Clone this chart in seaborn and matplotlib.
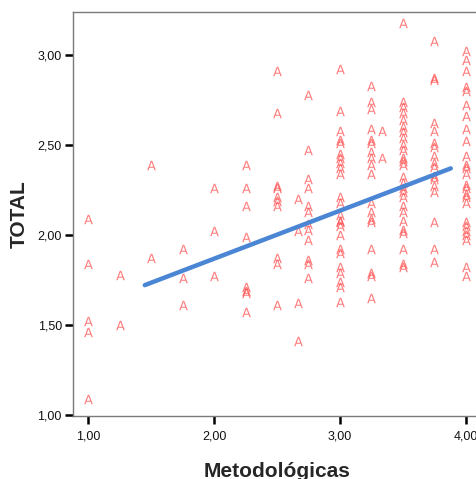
import numpy as np
import pandas as pd
import matplotlib
matplotlib.use("Agg")
import matplotlib.pyplot as plt
from matplotlib.ticker import FuncFormatter
import seaborn as sns

# Scores per Metodológicas level (TOTAL values observed at each level)
metodologicas_levels = [1.00, 1.25, 1.50, 1.75, 2.00, 2.25, 2.50, 2.67, 2.75,
                        3.00, 3.25, 3.33, 3.50, 3.75, 4.00]
total_at_100 = [2.09, 1.84, 1.52, 1.46, 1.09]
total_at_125 = [1.78, 1.50]
total_at_150 = [2.39, 1.87]
total_at_175 = [1.92, 1.76, 1.61]
total_at_200 = [2.26, 2.02, 1.77]
total_at_225 = [2.39, 2.26, 2.16, 1.99, 1.71, 1.69, 1.68, 1.57]
total_at_250 = [2.91, 2.68, 2.27, 2.26, 2.21, 2.19, 2.16, 1.87, 1.84, 1.61]
total_at_267 = [2.20, 2.02, 1.62, 1.41]
total_at_275 = [2.78, 2.47, 2.31, 2.26, 2.16, 2.13, 2.06, 2.03, 1.97, 1.86,
                1.84, 1.76]
total_at_300 = [2.92, 2.69, 2.58, 2.53, 2.51, 2.45, 2.43, 2.40, 2.37, 2.34,
                2.21, 2.18, 2.11, 2.08, 2.07, 2.05, 2.00, 1.92, 1.90, 1.82,
                1.79, 1.74, 1.71, 1.63]
total_at_325 = [2.83, 2.74, 2.70, 2.59, 2.53, 2.51, 2.46, 2.43, 2.39, 2.34,
                2.18, 2.13, 2.09, 2.07, 1.92, 1.79, 1.77, 1.65]
total_at_333 = [2.58, 2.43]
total_at_350 = [3.18, 2.74, 2.71, 2.68, 2.64, 2.60, 2.57, 2.54, 2.50, 2.47,
                2.43, 2.41, 2.39, 2.32, 2.29, 2.26, 2.24, 2.21, 2.16, 2.13,
                2.08, 2.03, 2.01, 1.92, 1.84, 1.82]
total_at_375 = [3.08, 2.87, 2.86, 2.62, 2.58, 2.51, 2.49, 2.44, 2.40, 2.38,
                2.33, 2.31, 2.27, 2.24, 2.07, 1.92, 1.85]
total_at_400 = [3.02, 2.97, 2.91, 2.82, 2.80, 2.72, 2.66, 2.59, 2.52, 2.44,
                2.39, 2.37, 2.34, 2.28, 2.26, 2.23, 2.21, 2.18, 2.07, 2.05,
                2.02, 2.00, 1.97, 1.82, 1.77]

totals_by_level = [total_at_100, total_at_125, total_at_150, total_at_175,
                   total_at_200, total_at_225, total_at_250, total_at_267,
                   total_at_275, total_at_300, total_at_325, total_at_333,
                   total_at_350, total_at_375, total_at_400]

# Linear fit line: TOTAL = intercept + slope * Metodológicas, over fit_span
fit_intercept = 1.334
fit_slope = 0.267
fit_span = [1.45, 3.88]

x_ticks = [1.0, 2.0, 3.0, 4.0]
y_ticks = [1.0, 1.5, 2.0, 2.5, 3.0]

df = pd.DataFrame({
    "Metodológicas": np.concatenate([[lvl] * len(v) for lvl, v in
                                     zip(metodologicas_levels, totals_by_level)]),
    "TOTAL": np.concatenate(totals_by_level),
})

fit_df = pd.DataFrame({"Metodológicas": fit_span})
fit_df["TOTAL"] = fit_intercept + fit_slope * fit_df["Metodológicas"]

sns.set_style("white")
plt.rcParams["font.family"] = ["Liberation Sans", "DejaVu Sans"]

W, H = 477, 479
fig = plt.figure(figsize=(W / 100, H / 100), dpi=100)
ax = fig.add_axes([73 / W, 1 - 416 / H, (481 - 73) / W, (416 - 12) / H])

sns.scatterplot(data=df, x="Metodológicas", y="TOTAL", ax=ax,
                marker=r"$\mathsf{A}$", s=46, color="#ff4a4a", alpha=0.72,
                linewidth=0, zorder=2)
sns.lineplot(data=fit_df, x="Metodológicas", y="TOTAL", ax=ax,
             color="#4a86d4", linewidth=3.2, zorder=3)

ax.set_xlim(0.88, 4.12)
ax.set_ylim(0.994, 3.239)
ax.set_xticks(x_ticks)
ax.set_yticks(y_ticks)
comma = FuncFormatter(lambda v, _: f"{v:.2f}".replace(".", ","))
ax.xaxis.set_major_formatter(comma)
ax.yaxis.set_major_formatter(comma)

ax.tick_params(axis="both", which="major", direction="out", length=5.5,
               width=1.8, color="black", labelsize=9, labelcolor="#111111")
ax.tick_params(axis="x", pad=5)
ax.tick_params(axis="y", pad=2.5)
ax.tick_params(bottom=True, left=True)

for side in ["left", "bottom", "top", "right"]:
    ax.spines[side].set_color("#7a7a7a")
    ax.spines[side].set_linewidth(1.0)

ax.set_xlabel("Metodológicas", fontsize=15, fontweight="bold", labelpad=14)
ax.set_ylabel("TOTAL", fontsize=15, fontweight="bold", labelpad=6)
ax.grid(False)

fig.savefig("out.png", dpi=100)
